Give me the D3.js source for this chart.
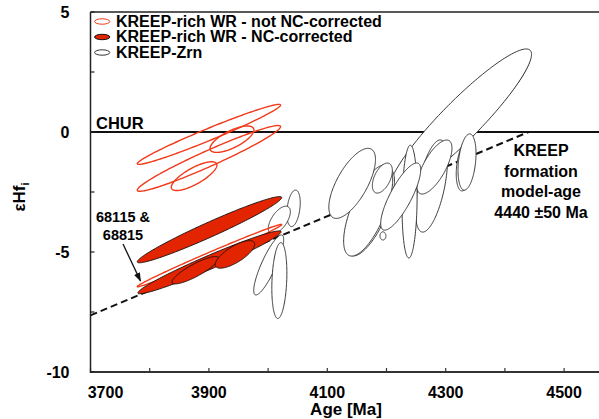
<!DOCTYPE html>
<html>
<head>
<meta charset="utf-8">
<script src="https://cdn.jsdelivr.net/npm/d3@7"></script>
<style>
  html, body { margin: 0; padding: 0; background: #fff; }
  svg { display: block; font-family: "Liberation Sans", Arial, sans-serif; font-weight: bold; }
</style>
</head>
<body>
<svg id="chart" width="599" height="419"></svg>
<script>
// Axis ticks
const ageTicks = [3700, 3900, 4100, 4300, 4500];
const ageMinorTicks = [3700, 3800, 3900, 4000, 4100, 4200, 4300, 4400, 4500, 4600];
const epsTicks = [5, 0, -5, -10];
const epsMinorTicks = [5, 2.5, 0, -2.5, -5, -7.5, -10];

// Error ellipses: centre, 2-sigma half-widths and age–εHf correlation
const wrUncorrected = [
  { age: 3900, ageErr: 121, eHf: -0.10, eHfErr: 1.25, rho: 0.977 },
  { age: 3900, ageErr: 121, eHf: -1.10, eHfErr: 1.37, rho: 0.965 },
  { age: 3939, ageErr: 37,  eHf: -0.30, eHfErr: 0.55, rho: 0.70 },
  { age: 3875, ageErr: 38.5, eHf: -1.84, eHfErr: 0.60, rho: 0.77 },
  { age: 3901, ageErr: 122, eHf: -5.15, eHfErr: 1.30, rho: 0.994 }
];
const wrCorrected = [
  { age: 3901, ageErr: 122, eHf: -4.07, eHfErr: 1.38, rho: 0.97 },
  { age: 3901, ageErr: 121, eHf: -5.43, eHfErr: 1.31, rho: 0.972 },
  { age: 3877, ageErr: 39.4, eHf: -5.76, eHfErr: 0.57, rho: 0.86 },
  { age: 3944, ageErr: 33.3, eHf: -5.10, eHfErr: 0.575, rho: 0.74 }
];
const zircons = [
  { age: 4325, ageErr: 116.6, eHf: 0.375, eHfErr: 2.83, rho: 0.94 },
  { age: 4325, ageErr: 120, eHf: 0.46, eHfErr: 3.0, rho: 0.925 },
  { age: 4276, ageErr: 27, eHf: -2.25, eHfErr: 1.92, rho: 0.55 },
  { age: 4333, ageErr: 15.2, eHf: -1.375, eHfErr: 1.08, rho: 0.35 },
  { age: 4336, ageErr: 15.2, eHf: -1.25, eHfErr: 1.17, rho: 0.3 },
  { age: 4239, ageErr: 12.7, eHf: -2.90, eHfErr: 2.35, rho: 0.1 },
  { age: 4173, ageErr: 40.5, eHf: -3.33, eHfErr: 1.83, rho: 0.7 },
  { age: 4169, ageErr: 41.4, eHf: -3.27, eHfErr: 1.90, rho: 0.67 },
  { age: 4194, ageErr: 5, eHf: -4.33, eHfErr: 0.17, rho: 0 },
  { age: 4193, ageErr: 16.9, eHf: -1.92, eHfErr: 0.625, rho: 0.5 },
  { age: 4142, ageErr: 39.4, eHf: -2.14, eHfErr: 1.46, rho: 0.68 },
  { age: 4281, ageErr: 29.6, eHf: -1.46, eHfErr: 1.125, rho: 0.7 },
  { age: 4224, ageErr: 33.8, eHf: -2.69, eHfErr: 1.40, rho: 0.8 },
  { age: 4043, ageErr: 11.3, eHf: -3.18, eHfErr: 0.76, rho: 0.3 },
  { age: 4019, ageErr: 18.6, eHf: -3.67, eHfErr: 0.58, rho: 0.6 },
  { age: 4001, ageErr: 25.3, eHf: -5.54, eHfErr: 1.25, rho: 0.85 },
  { age: 4019, ageErr: 12.7, eHf: -6.19, eHfErr: 1.58, rho: 0.2 }
];

// KREEP Hf evolution line, reaching CHUR at the model age
const modelAges = [3700, 4440];
const modelEps = [-7.64, 0];

const legendLabels = ["KREEP-rich WR - not NC-corrected", "KREEP-rich WR - NC-corrected", "KREEP-Zrn"];
const modelLabel = ["KREEP", "formation", "model-age", "4440 \u00b150 Ma"];
const sampleLabel = ["68115 &", "68815"];

const RED = "#e32400";
const RED_LINE = "#f03a1a";

const svg = d3.select("#chart");
const x = d3.scaleLinear().domain([3700, 4600]).range([90.5, 623.3]);
const y = d3.scaleLinear().domain([-10, 5]).range([372, 12]);

const sq = d => Math.sqrt(1 - d.rho * d.rho);
function ellipse(d) {
  const s = sq(d);
  const pts = d3.range(180).map(i => {
    const t = 2 * Math.PI * i / 180;
    return [x(d.age + d.ageErr * Math.cos(t)),
            y(d.eHf + d.eHfErr * (d.rho * Math.cos(t) + s * Math.sin(t)))];
  });
  return d3.line().curve(d3.curveLinearClosed)(pts);
}

// frame: top line
svg.append("line").attr("x1", x(3700)).attr("x2", 599).attr("y1", y(5)).attr("y2", y(5))
  .attr("stroke", "#222").attr("stroke-width", 1.5);

// CHUR reference
svg.append("line").attr("x1", x(3700)).attr("x2", 599).attr("y1", y(0)).attr("y2", y(0))
  .attr("stroke", "#111").attr("stroke-width", 2);
svg.append("text").attr("x", 96).attr("y", 128.5).attr("font-size", 16.5).text("CHUR");

// model evolution line
svg.append("path")
  .attr("d", d3.line()(modelAges.map((a, i) => [x(a), y(modelEps[i])])))
  .attr("stroke", "#111").attr("stroke-width", 2).attr("stroke-dasharray", "7,4").attr("fill", "none");

// zircon ellipses
svg.append("g").selectAll("path").data(zircons).join("path")
  .attr("d", ellipse).attr("fill", "#fff").attr("stroke", "#222").attr("stroke-width", 0.9);

// whole-rock ellipses
svg.append("g").selectAll("path").data(wrUncorrected).join("path")
  .attr("d", ellipse).attr("fill", "none").attr("stroke", RED_LINE).attr("stroke-width", 1.4);
svg.append("g").selectAll("path").data(wrCorrected).join("path")
  .attr("d", ellipse).attr("fill", RED).attr("stroke", "#111").attr("stroke-width", 0.9);

// axes
const xAxis = svg.append("g").attr("transform", `translate(0,${y(-10)})`);
xAxis.append("line").attr("x1", x(3700)).attr("x2", 599).attr("stroke", "#333").attr("stroke-width", 2);
xAxis.selectAll(".tk").data(ageMinorTicks).join("line")
  .attr("x1", d => x(d)).attr("x2", d => x(d)).attr("y1", 0).attr("y2", -4)
  .attr("stroke", "#333").attr("stroke-width", 1.2);
xAxis.selectAll("text").data(ageTicks).join("text")
  .attr("x", (d, i) => x(d) + (i === 0 ? 15 : 0)).attr("y", 26)
  .attr("text-anchor", "middle").attr("font-size", 16).text(d => d);

const yAxis = svg.append("g").attr("transform", `translate(${x(3700)},0)`);
yAxis.append("line").attr("y1", y(5)).attr("y2", y(-10) + 1).attr("stroke", "#222").attr("stroke-width", 1.5);
yAxis.selectAll(".tk").data(epsMinorTicks).join("line")
  .attr("y1", d => y(d)).attr("y2", d => y(d)).attr("x1", 0).attr("x2", 4)
  .attr("stroke", "#222").attr("stroke-width", 1.2);
yAxis.selectAll("text").data(epsTicks).join("text")
  .attr("x", -21).attr("y", d => y(d)).attr("dy", "0.36em")
  .attr("text-anchor", "end").attr("font-size", 16).text(d => d);

// axis titles
svg.append("text").attr("x", 346).attr("y", 415.3).attr("text-anchor", "middle")
  .attr("font-size", 17).text("Age [Ma]");
const yt = svg.append("text").attr("transform", "translate(25,197) rotate(-90)")
  .attr("text-anchor", "middle").attr("font-size", 17);
yt.append("tspan").text("\u03b5Hf");
yt.append("tspan").attr("font-size", 11).attr("dy", 4).text("i");

// legend
const legendStyles = [
  { fill: "#fff", stroke: RED_LINE },
  { fill: RED, stroke: "#111" },
  { fill: "#fff", stroke: "#333" }
];
const legendY = [21.5, 37, 52.5];
const lg = svg.append("g");
legendLabels.forEach((t, i) => {
  lg.append("ellipse").attr("cx", 102.2).attr("cy", legendY[i]).attr("rx", 7.6).attr("ry", 2.7)
    .attr("fill", legendStyles[i].fill).attr("stroke", legendStyles[i].stroke).attr("stroke-width", 1);
  lg.append("text").attr("x", 116).attr("y", legendY[i] + 5.4).attr("font-size", 16).text(t);
});

// model-age annotation
modelLabel.forEach((t, i) => {
  svg.append("text").attr("x", 541).attr("y", 156 + i * 20.7).attr("text-anchor", "middle")
    .attr("font-size", 16).text(t);
});

// sample annotation with arrow
sampleLabel.forEach((t, i) => {
  svg.append("text").attr("x", 123).attr("y", 221.5 + i * 18.5).attr("text-anchor", "middle")
    .attr("font-size", 14.5).text(t);
});
svg.append("defs").append("marker").attr("id", "arrow").attr("viewBox", "0 0 10 10")
  .attr("refX", 9).attr("refY", 5).attr("markerWidth", 7).attr("markerHeight", 7)
  .attr("orient", "auto").append("path").attr("d", "M0,1.5L10,5L0,8.5Z").attr("fill", "#111");
svg.append("line").attr("x1", 123).attr("y1", 244).attr("x2", 140.5).attr("y2", 281)
  .attr("stroke", "#111").attr("stroke-width", 1.3).attr("marker-end", "url(#arrow)");
</script>
</body>
</html>
